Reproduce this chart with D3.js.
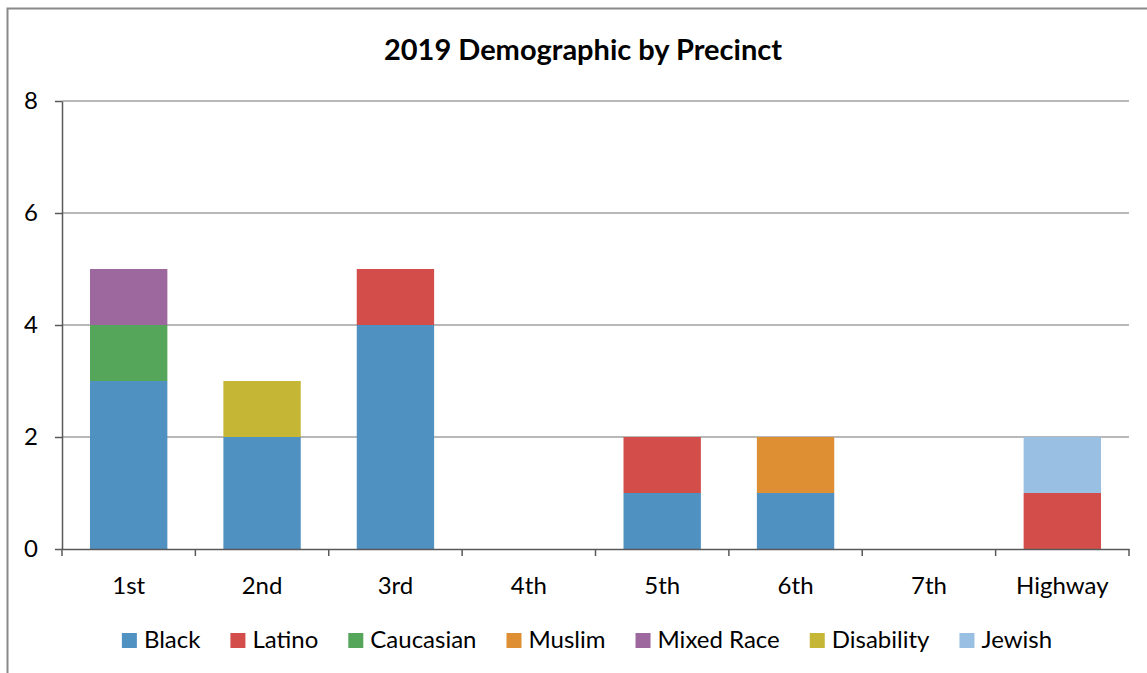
<!DOCTYPE html>
<html><head><meta charset="utf-8">
<script src="https://cdn.jsdelivr.net/npm/d3@7"></script>
<style>body{margin:0;background:#fff}svg{display:block}</style>
</head><body>
<svg id="c" width="1147" height="673"></svg>
<script>
const categories = ["1st","2nd","3rd","4th","5th","6th","7th","Highway"];
const seriesNames = ["Black","Latino","Caucasian","Muslim","Mixed Race","Disability","Jewish"];
const black      = [3,2,4,0,1,1,0,0];
const latino     = [0,0,1,0,1,0,0,1];
const caucasian  = [1,0,0,0,0,0,0,0];
const muslim     = [0,0,0,0,0,1,0,0];
const mixedRace  = [1,0,0,0,0,0,0,0];
const disability = [0,1,0,0,0,0,0,0];
const jewish     = [0,0,0,0,0,0,0,1];
const yTicks = [0,2,4,6,8];
const colors = ["#4f91c1","#d34e4b","#55a65b","#de8f33","#9d689d","#c5b735","#99bfe3"];
const title = "2019 Demographic by Precinct";

const seriesVals = [black,latino,caucasian,muslim,mixedRace,disability,jewish];
const rows = categories.map((c,i)=>{const r={cat:c};seriesNames.forEach((s,j)=>r[s]=seriesVals[j][i]);return r;});

const svg = d3.select("#c");
const font = "Lato, 'Open Sans', sans-serif";
// frame
svg.append("rect").attr("x",7.5).attr("y",8.5).attr("width",1160).attr("height",700)
  .attr("fill","#fff").attr("stroke","#898989").attr("stroke-width",2);

const L=62,R=1129,T=101,B=549;
const x = d3.scaleBand().domain(categories).range([L,R]).paddingInner(0.42).paddingOuter(0.21);
const xb = d3.scaleBand().domain(categories).range([L,R]);
const y = d3.scaleLinear().domain([0,8]).range([B,T]);

// grid
svg.append("g").selectAll("line").data(yTicks.filter(d=>d>0)).join("line")
  .attr("x1",L).attr("x2",R).attr("y1",d=>y(d)).attr("y2",d=>y(d))
  .attr("stroke","#a0a0a0").attr("stroke-width",1.5);

const stack = d3.stack().keys(seriesNames)(rows);
svg.append("g").selectAll("g").data(stack).join("g").attr("fill",(d,i)=>colors[i])
  .selectAll("rect").data(d=>d).join("rect")
  .attr("x",d=>x(d.data.cat)).attr("width",x.bandwidth())
  .attr("y",d=>y(d[1])).attr("height",d=>y(d[0])-y(d[1]));

// y axis
const ya = svg.append("g").attr("transform",`translate(${L},0)`)
  .call(d3.axisLeft(y).tickValues(yTicks).tickSize(7).tickPadding(17).tickSizeOuter(0));
ya.select(".domain").attr("stroke","#595959").attr("stroke-width",1.5);
ya.selectAll(".tick line").attr("stroke","#595959").attr("stroke-width",1.5);
ya.selectAll("text").attr("font-family",font).attr("font-size",24).attr("fill","#000");

// x axis
const xa = svg.append("g").attr("transform",`translate(0,${B})`)
  .call(d3.axisBottom(xb).tickSize(0).tickPadding(28).tickSizeOuter(0));
xa.select(".domain").attr("stroke","#595959").attr("stroke-width",1.5);
xa.selectAll("text").attr("font-family",font).attr("font-size",24).attr("fill","#000");
svg.append("g").selectAll("line").data(categories.map(c=>xb(c)).concat([R])).join("line")
  .attr("x1",d=>d).attr("x2",d=>d).attr("y1",B).attr("y2",B+7)
  .attr("stroke","#595959").attr("stroke-width",1.5);

// title
svg.append("text").attr("x",583).attr("y",60).attr("text-anchor","middle")
  .attr("font-family",font).attr("font-weight","bold").attr("font-size",29).text(title);

// legend
const lg = svg.append("g");
let cx = 0;
const gap = 30;
seriesNames.forEach((s,i)=>{
  const g = lg.append("g");
  g.append("rect").attr("x",0).attr("y",-15).attr("width",15).attr("height",15).attr("fill",colors[i]);
  const t = g.append("text").attr("x",22).attr("y",0).attr("font-family",font).attr("font-size",24).text(s);
  const w = 22 + t.node().getComputedTextLength();
  g.attr("transform",`translate(${cx},648)`);
  cx += w + gap;
});
const total = cx - gap;
lg.attr("transform",`translate(${587 - total/2},0)`);
</script>
</body></html>
